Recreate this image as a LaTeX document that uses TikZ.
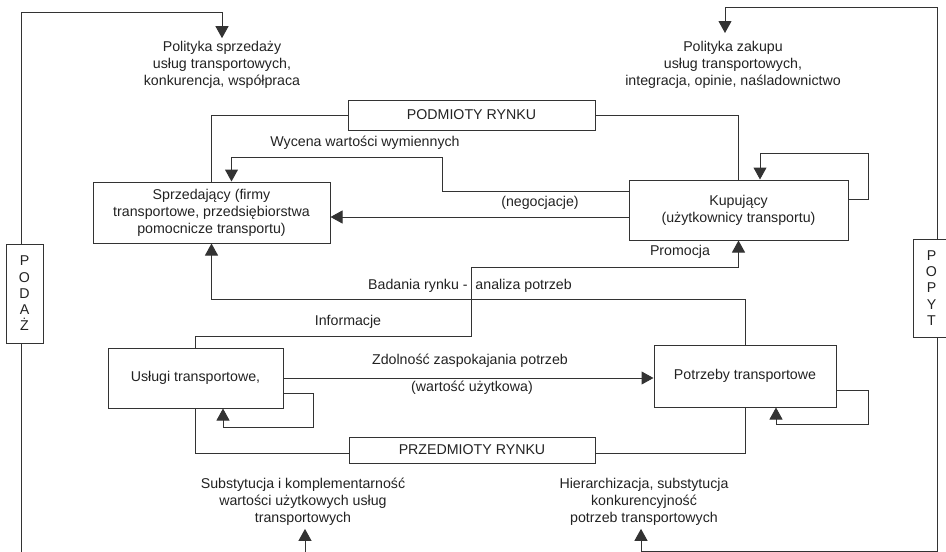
\documentclass[tikz,border=0pt]{standalone}
\usepackage{fontspec}
\setmainfont{Liberation Sans}
\usetikzlibrary{arrows.meta,calc}
\definecolor{ink}{RGB}{34,34,34}
\definecolor{wire}{RGB}{51,51,51}
\newcommand{\diagfont}{\fontsize{14.2}{17}\selectfont}
\newcommand{\sidefont}{\fontsize{14.2}{16.3}\selectfont}
\tikzset{
  box/.style={draw=wire, line width=1pt, align=center, inner sep=2pt,
    text=ink, font=\diagfont},
  lbl/.style={align=center, inner sep=3pt, text=ink, font=\diagfont},
  side/.style={draw=wire, line width=1pt, align=center, inner sep=0pt,
    text=ink, font=\sidefont, minimum width=37pt, minimum height=99pt},
  flow/.style={-{Triangle[length=12pt, width=13pt]}, line width=1pt, draw=wire},
  link/.style={line width=1pt, draw=wire},
}

\begin{document}
\begin{tikzpicture}[x=1pt, y=-1pt]
  \useasboundingbox (0,0) rectangle (946,552);
  % boxes
  \node[box, minimum width=237pt, minimum height=61pt] (sprz) at (211.5,212.5)
    {Sprzedający (firmy\\transportowe, przedsiębiorstwa\\pomocnicze transportu)};
  \node[box, minimum width=219pt, minimum height=60pt] (kup) at (738.5,210)
    {Kupujący\\(użytkownicy transportu)};
  \node[box, minimum width=175pt, minimum height=60pt] (uslugi) at (195.5,378)
    {Usługi transportowe,};
  \node[box, minimum width=182pt, minimum height=62pt] (potrz) at (745,376)
    {Potrzeby transportowe};
  \node[box, minimum width=247pt, minimum height=30pt] (podm) at (471.5,115)
    {PODMIOTY RYNKU};
  \node[box, minimum width=246pt, minimum height=26pt] (przedm) at (472,450)
    {PRZEDMIOTY RYNKU};
  \node[side] (podaz) at (24.5,293.5) {P\\O\\D\\A\\Ż};
  \node[side, minimum height=98pt] (popyt) at (931.5,288) {P\\O\\P\\Y\\T};
  % texts
  \node[lbl] (polsp) at (222,65)
    {Polityka sprzedaży\\usług transportowych,\\konkurencja, współpraca};
  \node[lbl] (polzak) at (733,65)
    {Polityka zakupu\\usług transportowych,\\integracja, opinie, naśladownictwo};
  \node[lbl] (subst) at (303,502)
    {Substytucja i komplementarność\\wartości użytkowych usług\\transportowych};
  \node[lbl] (hier) at (644,502)
    {Hierarchizacja, substytucja\\konkurencyjność\\potrzeb transportowych};
  \node[lbl] (wycena) at (365,143) {Wycena wartości wymiennych};
  \node[lbl] (negoc) at (540,203) {(negocjacje)};
  \node[lbl] (promo) at (680,252) {Promocja};
  \node[lbl] (badania) at (470,286) {Badania rynku - \ analiza potrzeb};
  \node[lbl] (inform) at (348,322) {Informacje};
  \node[lbl] (zdoln) at (470,361) {Zdolność zaspokajania potrzeb};
  \node[lbl] (wart) at (472,388) {(wartość użytkowa)};

  % podmioty / przedmioty
  \draw[link] (podm.west) -| (sprz.north);
  \draw[link] (podm.east) -| (kup.north);
  \draw[link] ([yshift=-3pt]przedm.west) -| (uslugi.south);
  \draw[link] ([yshift=-3pt]przedm.east) -| (potrz.south);

  % relacje
  \draw[flow] ([yshift=19pt]kup.west) -| (442,157) -| ([xshift=20pt]sprz.north);
  \draw[flow] ([yshift=-7pt]kup.west) coordinate (n0) -- (sprz.east |- n0);
  \draw[flow] ([yshift=11pt]kup.east) -| (868,153) -| ([xshift=21.5pt]kup.north);
  \coordinate (p1) at (471,267);
  \draw[flow] (uslugi.north) |- (471,336) -- (p1) -| (kup.south);
  \draw[flow] (potrz.north) -- ++(0,-45) -| (sprz.south);
  \draw[flow] (uslugi.east) -- (potrz.west |- uslugi.east);
  \draw[flow] ([yshift=-15pt]uslugi.east) -| (313,427) -| ([xshift=27.5pt]uslugi.south);
  \draw[flow] ([yshift=-14pt]potrz.east) -| (868,424) -| ([xshift=31pt]potrz.south);

  % podaz / popyt
  \draw[flow] ([xshift=-3pt]podaz.north) |- (222,12) -- (polsp.north);
  \draw[flow] ([xshift=-3pt]podaz.south) -- (21.5,560) -| ([xshift=2pt]subst.south);
  \draw[flow] ([xshift=5.5pt]popyt.north) |- (725,7) -- (725,33);
  \draw[flow] ([xshift=5.5pt]popyt.south) |- (641,551) -- ([xshift=-3pt]hier.south);
\end{tikzpicture}
\end{document}
